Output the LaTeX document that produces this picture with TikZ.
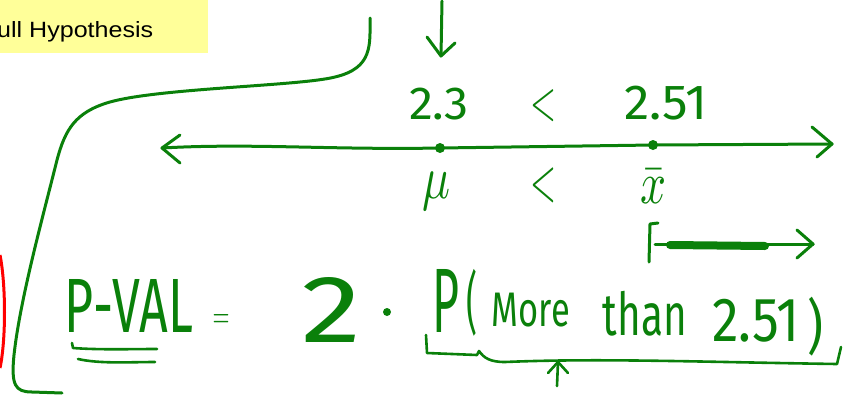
\documentclass[tikz,border=0pt]{standalone}
\usepackage{fontspec}
\usepackage{graphicx}
\newfontfamily\hwfont{Fira Sans}
\newfontfamily\boxfont{Liberation Sans}
\definecolor{pengreen}{RGB}{10,128,10}
\definecolor{noteyellow}{RGB}{255,255,153}
\newcommand{\fitto}[3]{\resizebox*{#1pt}{#2pt}{#3}}
\newcommand{\fitup}[3]{\resizebox{#1pt}{#2pt}{#3}}
\tikzset{
  pen/.style={draw=pengreen, line width=3pt, line cap=round, line join=round},
  thinpen/.style={draw=pengreen, line width=2.6pt, line cap=round, line join=round},
  hw/.style={inner sep=0pt, outer sep=0pt, text=pengreen, font=\hwfont},
  penDot/.style={circle, fill=pengreen, inner sep=0pt, minimum size=10pt}
}
\begin{document}
\begin{tikzpicture}[x=1pt,y=-1pt]
\useasboundingbox (0,0) rectangle (851,394);

% yellow note
\fill[noteyellow] (0,0) rectangle (208,53);
\node[anchor=base west, inner sep=0pt, font=\boxfont] (note) at (-3,37) {\fitup{156}{16}{ull Hypothesis}};

% red arc
\draw[red, line width=3pt] (0,255) .. controls (6,285) and (6,340) .. (0,368);

% big bracket
\draw[pen] (370,18) .. controls (370,45) and (373,68) .. (335,77)
  .. controls (300,86) and (160,88) .. (110,102)
  .. controls (75,112) and (65,130) .. (57,160)
  .. controls (42,220) and (20,300) .. (14,355)
  .. controls (11,385) and (15,392) .. (32,392)
  -- (62,393);

% top down arrow
\coordinate (topA) at (442,1);
\coordinate (topB) at (441,56);
\draw[pen] (topA) -- (topB);
\draw[pen] (427,37) -- (topB) -- (455,43);

% number line
\node[penDot] (mudot) at (440,148) {};
\node[penDot] (xbdot) at (653,145) {};
\coordinate (nlL) at (162,148);
\coordinate (nlR) at (832,144);
\draw[pen] (nlL) .. controls (250,143) and (330,150) .. (mudot.center) -- (xbdot.center) -- (nlR);
\draw[pen] (180,135) -- (nlL) -- (180,163);
\draw[pen] (812,127) -- (nlR) -- (817,157);

% labels above / below
\node[hw] (v23) at (439,104) {\fitto{60}{32}{2.3}};
\node[hw] (lt1) at (543,106) {\fitto{26}{32}{$<$}};
\node[hw] (v251) at (666,103) {\fitto{83}{34}{2.51}};
\node[hw] (mu) at (436,191) {\fitto{28}{38}{$\mu$}};
\node[hw] (lt2) at (543,185) {\fitto{26}{35}{$<$}};
\node[hw] (xbar) at (653,186) {\fitto{26}{34}{$\bar{x}$}};

% small right arrow region
\coordinate (brL) at (655,244);
\coordinate (brR) at (813,244);
\draw[pen] (658,223) -- (650,224) -- (649,262);
\draw[draw=pengreen, line width=8pt, line cap=round] (670,245) -- (765,246);
\draw[pen] (brL) -- (brR);
\draw[pen] (797,230) -- (brR) -- (797,258);

% P-VAL = 2 . P(More than 2.51)
\node[hw] (pval) at (129,306) {\fitto{128}{53}{P-VAL}};
\node[hw] (eq) at (221,321) {\fitto{17}{13}{$=$}};
\node[hw] (two) at (331,310) {\fitto{60}{65}{2}};
\node[penDot, minimum size=8pt] (cdot) at (387,312) {};
\node[hw] (P) at (446,301) {\fitto{27}{63}{P}};
\node[hw] (lp) at (472,303) {\fitto{11}{67}{(}};
\node[hw] (more) at (531,310) {\fitto{78}{34}{More}};
\node[hw] (than) at (645,314) {\fitto{84}{45}{than}};
\node[hw] (num) at (756,321) {\fitto{87}{43}{2.51}};
\node[hw] (rp) at (815,327) {\fitto{16}{59}{)}};

% double underline
\draw[thinpen] (72,343) -- (73,348) .. controls (100,350) and (130,349) .. (157,349);
\draw[thinpen] (78,359) .. controls (100,364) and (130,362) .. (155,362);

% brace under P(...)
\draw[thinpen] (426,335) -- (427,353) -- (477,355) -- (479,351)
  .. controls (484,358) and (490,362) .. (505,362)
  .. controls (600,358) and (700,362) .. (837,364) -- (841,347);

% small up arrow
\coordinate (upTip) at (558,362);
\coordinate (upEnd) at (557,386);
\draw[thinpen] (upEnd) -- (upTip);
\draw[thinpen] (548,373) -- (upTip) -- (568,373);
\end{tikzpicture}
\end{document}
